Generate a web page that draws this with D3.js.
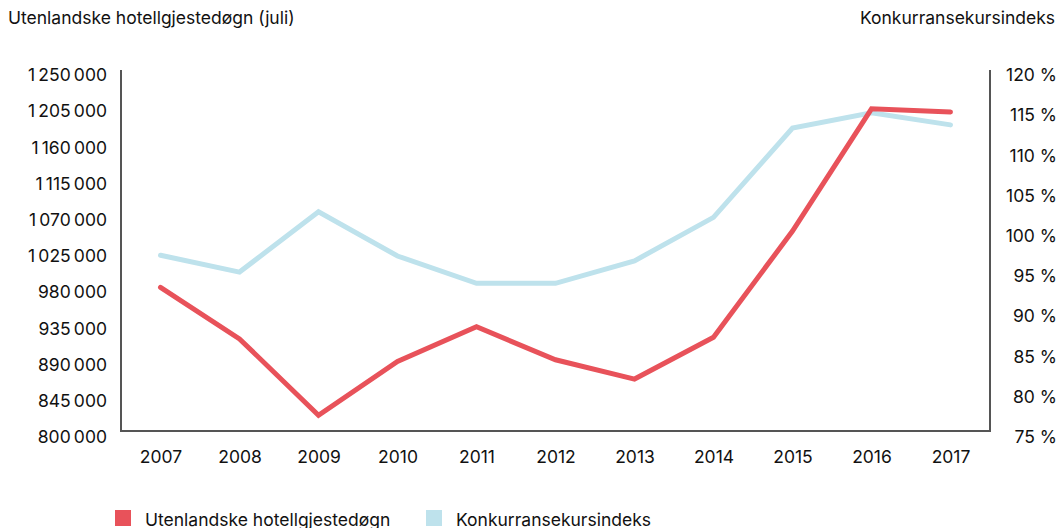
<!DOCTYPE html>
<html><head><meta charset="utf-8">
<script src="https://cdn.jsdelivr.net/npm/d3@7"></script>
<style>body{margin:0;background:#fff;}svg{display:block;font-family:Inter,"Noto Sans",sans-serif;}</style>
</head><body>
<svg id="c" width="1058" height="528"></svg>
<script>
const years = ["2007","2008","2009","2010","2011","2012","2013","2014","2015","2016","2017"];
const hotelNights = [986000, 922000, 827000, 894000, 937000, 896000, 872000, 924000, 1056000, 1208000, 1204000];
const competitiveIndex = [97.6, 95.5, 103.0, 97.5, 94.1, 94.1, 96.9, 102.3, 113.4, 115.3, 113.8];
const leftTicks = [800000, 845000, 890000, 935000, 980000, 1025000, 1070000, 1115000, 1160000, 1205000, 1250000];
const rightTicks = [75, 80, 85, 90, 95, 100, 105, 110, 115, 120];
const seriesNames = ["Utenlandske hotellgjestedøgn", "Konkurransekursindeks"];
const colors = ["#e8525a", "#bee2ec"];

const FS = 17.5;
const svg = d3.select("#c");
const x = d3.scalePoint().domain(years).range([121, 990]).padding(0.5);
const yL = d3.scaleLinear().domain([800000, 1250000]).range([437, 75]);
const yR = d3.scaleLinear().domain([75, 120]).range([437, 75]);
const fmt = v => d3.format(",")(v).replace(/,/g, "\u2009");

// titles
svg.append("text").attr("x", 8).attr("y", 24).attr("font-size", FS).attr("fill", "#111").text("Utenlandske hotellgjestedøgn (juli)");
svg.append("text").attr("x", 1055).attr("y", 24).attr("text-anchor", "end").attr("font-size", FS).attr("fill", "#111").text("Konkurransekursindeks");

// axes
const axL = svg.append("g").attr("transform", "translate(107,0)")
  .call(d3.axisLeft(yL).tickValues(leftTicks).tickFormat(fmt).tickSize(0).tickPadding(0));
axL.select(".domain").remove();
const axR = svg.append("g").attr("transform", "translate(1057,0)")
  .call(d3.axisLeft(yR).tickValues(rightTicks).tickFormat(d => d + " %").tickSize(0).tickPadding(0));
axR.select(".domain").remove();
const axB = svg.append("g").attr("transform", "translate(0,451)")
  .call(d3.axisBottom(x).tickSize(0).tickPadding(0));
axB.select(".domain").remove();
svg.selectAll(".tick text").attr("font-size", FS).attr("fill", "#111").attr("font-family", "Inter, 'Noto Sans', sans-serif");
axB.selectAll(".tick text").attr("dy", "0.71em");

svg.append("path").attr("d", "M121,70V431H990V70").attr("fill", "none").attr("stroke", "#555").attr("stroke-width", 2);

// lines
const lineL = d3.line().x((d, i) => x(years[i])).y(d => yL(d));
const lineR = d3.line().x((d, i) => x(years[i])).y(d => yR(d));
svg.append("path").attr("d", lineR(competitiveIndex)).attr("fill", "none").attr("stroke", colors[1]).attr("stroke-width", 5).attr("stroke-linecap", "round");
svg.append("path").attr("d", lineL(hotelNights)).attr("fill", "none").attr("stroke", colors[0]).attr("stroke-width", 5).attr("stroke-linecap", "round");

// legend
const legX = [115, 426];
seriesNames.forEach((n, i) => {
  svg.append("rect").attr("x", legX[i]).attr("y", 510).attr("width", 16).attr("height", 16).attr("fill", colors[i]);
  svg.append("text").attr("x", legX[i] + 30).attr("y", 526).attr("font-size", FS).attr("fill", "#111").text(n);
});
</script>
</body></html>
